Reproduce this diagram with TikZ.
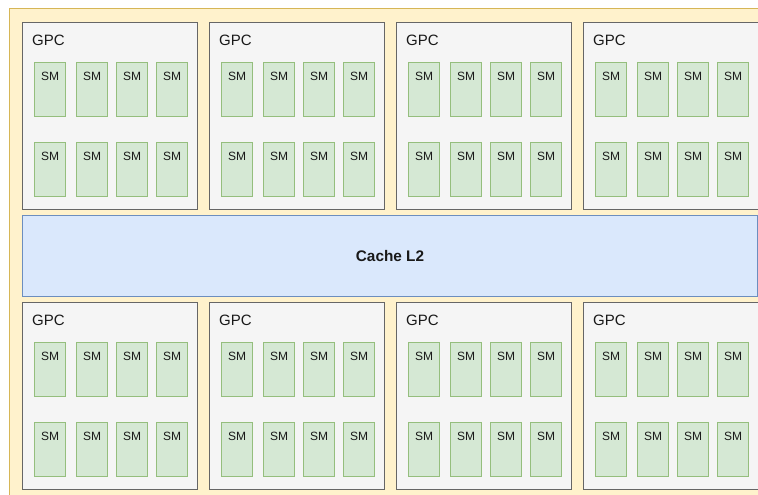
\documentclass[tikz,border=0pt]{standalone}
\usepackage{fontspec}
\setmainfont{Liberation Sans}
\usetikzlibrary{positioning}

\definecolor{boardfill}{HTML}{FFF2CC}
\definecolor{boardline}{HTML}{D6B656}
\definecolor{gpcfill}{HTML}{F5F5F5}
\definecolor{gpcline}{HTML}{666666}
\definecolor{smfill}{HTML}{D5E8D4}
\definecolor{smline}{HTML}{82B366}
\definecolor{cachefill}{HTML}{DAE8FC}
\definecolor{cacheline}{HTML}{6C8EBF}

\begin{document}
\begin{tikzpicture}[x=0.75pt, y=-0.75pt, line width=0.75pt, node distance=30pt]
\tikzstyle{board}=[draw=boardline, fill=boardfill, anchor=north west, inner sep=0pt, minimum width=585pt, minimum height=390pt]
\tikzstyle{gpc}=[draw=gpcline, fill=gpcfill, anchor=north west, inner sep=0pt, minimum width=130.9pt, minimum height=140.25pt,
  label={[anchor=north west, inner sep=0pt, xshift=7.3pt, yshift=-9.6pt, font=\fontsize{11.25}{13}\selectfont, text=black!90]north west:GPC}]
\tikzstyle{sm}=[draw=smline!85, fill=smfill, inner sep=0pt, minimum width=23.25pt, minimum height=40.5pt,
  label={[anchor=north, inner sep=0pt, yshift=-7.2pt, font=\fontsize{9}{11}\selectfont, text=black!90]north:SM}]
\tikzstyle{cache}=[draw=cacheline, fill=cachefill, anchor=north west, inner sep=0pt, minimum width=551.25pt, minimum height=60.75pt,
  font=\bfseries\fontsize{11.5}{13}\selectfont, text=black!90]

\useasboundingbox (0,0) rectangle (758,495);
\clip (0,0) rectangle (758,495);

\node[board] (board) at (9,8) {};

% two rows of GPC blocks, 4 per row
\foreach \row/\top in {1/22, 2/302} {
  \foreach \col in {1,...,4} {
    \pgfmathsetmacro{\left}{22+(\col-1)*187}
    \node[gpc] (gpc-\row-\col) at (\left,\top) {};
    \foreach \smrow/\dy in {1/30pt, 2/90pt} {
      \foreach \k/\dx in {1/9pt, 2/40.5pt, 3/70.5pt, 4/100.5pt} {
        \node[sm, below right=\dy and \dx of gpc-\row-\col.north west] (sm-\row-\col-\smrow-\k) {};
      }
    }
  }
}

\node[cache] (cache) at (22,215) {Cache L2};
\end{tikzpicture}
\end{document}
